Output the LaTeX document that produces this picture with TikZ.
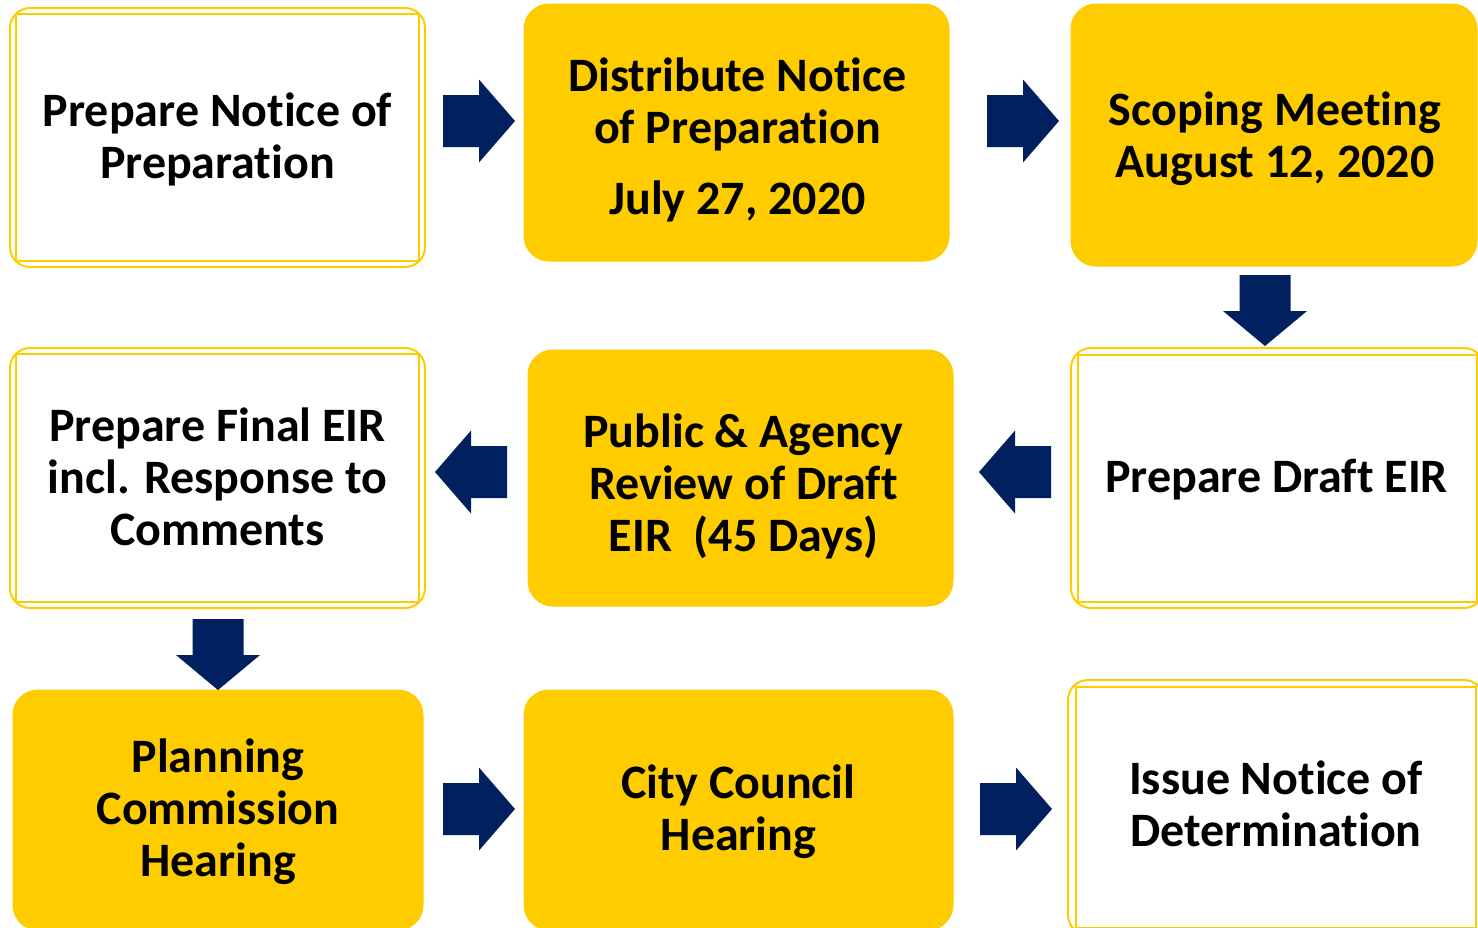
\documentclass[tikz,border=0pt]{standalone}
\usepackage{fontspec}
\setmainfont{Carlito}[Ligatures=NoCommon]
\usetikzlibrary{calc}
\definecolor{yel}{HTML}{FFCC00}
\definecolor{navy}{HTML}{002060}
\begin{document}
\begin{tikzpicture}[x=1pt,y=-1pt,
  txt/.style={align=center,text=black,font=\bfseries\fontsize{48}{52}\selectfont,inner sep=0pt},
  ybox/.style={fill=yel,draw=yel,line width=1pt,rounded corners=25pt,inner sep=0pt},
  wbox/.style={fill=white,draw=yel,line width=2pt,rounded corners=20pt,inner sep=0pt},
  inner/.style={draw=yel,line width=1.6pt},
  rarr/.pic={\fill[navy] (0,-26) -- (36,-26) -- (36,-41.5) -- (72,0) -- (36,41.5) -- (36,26) -- (0,26) -- cycle;},
  larr/.pic={\fill[navy] (0,-26) -- (-36,-26) -- (-36,-41.5) -- (-72,0) -- (-36,41.5) -- (-36,26) -- (0,26) -- cycle;},
  darr/.pic={\fill[navy] (-25.5,0) -- (-25.5,36) -- (-42,36) -- (0,71) -- (42,36) -- (25.5,36) -- (25.5,0) -- cycle;}
]
\useasboundingbox (0,0) rectangle (1478,927);
\clip (0,0) rectangle (1478,927);
\fill[white] (0,0) rectangle (1478,927);
% row 1
\node[wbox,minimum width=415pt,minimum height=259pt] (A) at (217.5,137.5) {};
\draw[inner] ([shift={(7,7)}]A.north west) rectangle ([shift={(-7,-7)}]A.south east);
\node[txt] (At) at ($(A.center)+(0,2)$) {Prepare Notice of\\Preparation};
\node[ybox,minimum width=425pt,minimum height=257pt] (B) at (736.5,132.5) {};
\node[txt] (Bt) at ($(B.center)+(1,7)$) {Distribute Notice\\of Preparation\\[19pt]July 27, 2020};
\node[ybox,minimum width=406pt,minimum height=262pt] (C) at (1274,135) {};
\node[txt] (Ct) at ($(C.center)+(1,4)$) {Scoping Meeting\\August 12, 2020};
% row 2
\node[wbox,minimum width=413pt,minimum height=260pt] (D) at (1277.5,478) {};
\draw[inner] ([shift={(8,8)}]D.north west) rectangle ([shift={(-8,-7)}]D.south east);
\node[txt] (Dt) at ($(D.center)+(-1,2)$) {Prepare Draft EIR};
\node[ybox,minimum width=425pt,minimum height=256pt] (E) at (740.5,478) {};
\node[txt] (Et) at ($(E.center)+(3,8)$) {Public \& Agency\\Review of Draft\\EIR\ \ (45 Days)};
\node[wbox,minimum width=415pt,minimum height=260pt] (F) at (217.5,478) {};
\draw[inner] ([shift={(7,7)}]F.north west) rectangle ([shift={(-7,-7)}]F.south east);
\node[txt] (Ft) at ($(F.center)+(0,-1)$) {Prepare Final EIR\\incl. Response to\\Comments};
% row 3
\node[ybox,minimum width=410pt,minimum height=240pt] (G) at (218,810) {};
\node[txt] (Gt) at ($(G.center)+(0,2)$) {Planning\\Commission\\Hearing};
\node[ybox,minimum width=429pt,minimum height=240pt] (H) at (738.5,810) {};
\node[txt] (Ht) at ($(H.center)+(0,2)$) {City Council\\Hearing};
\node[wbox,minimum width=416pt,minimum height=255pt] (I) at (1276,807.5) {};
\draw[inner] ([shift={(9,8)}]I.north west) rectangle ([shift={(-9,-8)}]I.south east);
\node[txt] (It) at ($(I.center)+(0,-4)$) {Issue Notice of\\Determination};
% arrows
\pic at (443,121) {rarr};
\pic at (987,121) {rarr};
\pic at (1265,275) {darr};
\pic at (1051,472) {larr};
\pic at (507,472) {larr};
\pic at (218,619) {darr};
\pic at (443,809) {rarr};
\pic at (980,809) {rarr};
\end{tikzpicture}
\end{document}
